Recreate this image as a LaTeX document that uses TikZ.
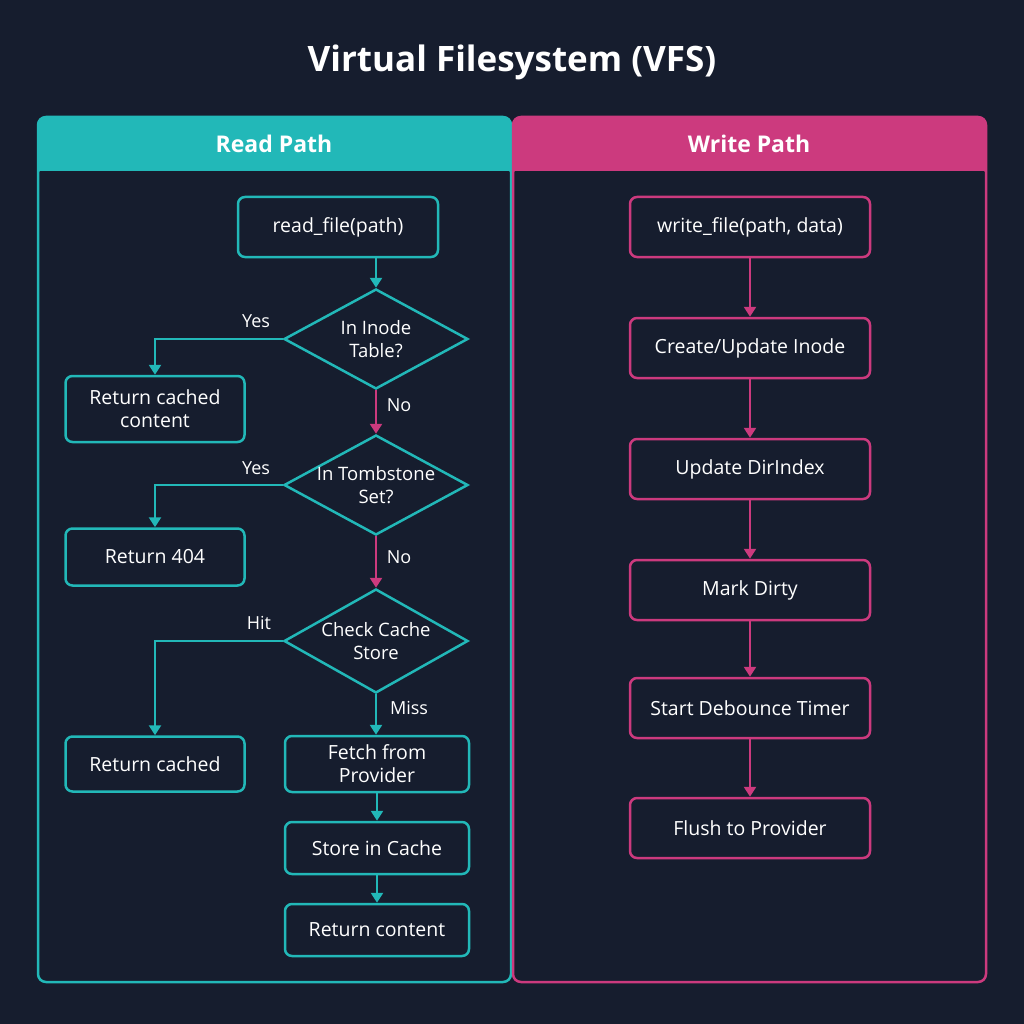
\documentclass[tikz,border=0pt]{standalone}
\usepackage{fontspec}
\setmainfont{Open Sans}
\usetikzlibrary{shapes.geometric,arrows.meta}
\definecolor{bg}{HTML}{161D2E}
\definecolor{teal}{HTML}{22B8B8}
\definecolor{pink}{HTML}{CC3A7E}
\tikzset{
 box/.style={draw=#1,line width=2.5pt,rounded corners=7pt,fill=bg,text=white,font=\fontsize{19.5}{23}\selectfont,align=center,inner sep=0pt},
 dia/.style={draw=teal,line width=2.5pt,diamond,fill=bg,aspect=1.84,minimum width=184pt,minimum height=100pt,inner sep=0pt},
 dtxt/.style={text=white,font=\fontsize{18.5}{23}\selectfont,align=center},
 arr/.style={draw=#1,line width=2.5pt,-{Triangle[length=10pt,width=12pt]}},
 lab/.style={text=white,font=\fontsize{18}{22}\selectfont},
 hdr/.style={text=white,font=\fontsize{23}{28}\selectfont\bfseries}
}
\begin{document}
\begin{tikzpicture}[x=1pt,y=-1pt]
\fill[bg] (0,0) rectangle (1024,1024);
\useasboundingbox (0,0) rectangle (1024,1024);
\node[text=white,font=\fontsize{35}{40}\selectfont\bfseries] (title) at (512,62) {Virtual Filesystem (VFS)};
% panels
\fill[teal,rounded corners=8pt] (38,117) rectangle (511,175);
\fill[bg] (40,170) rectangle (509,980);
\draw[teal,line width=2.5pt,rounded corners=8pt] (38,117) rectangle (511,982);
\draw[teal,line width=2.5pt] (38,170) -- (511,170);
\node[hdr] (rh) at (274,144) {Read Path};
\fill[pink,rounded corners=8pt] (513,117) rectangle (986,175);
\fill[bg] (515,170) rectangle (984,980);
\draw[pink,line width=2.5pt,rounded corners=8pt] (513,117) rectangle (986,982);
\draw[pink,line width=2.5pt] (513,170) -- (986,170);
\node[hdr] (wh) at (749,144) {Write Path};
% read nodes
\node[box=teal,minimum width=200pt,minimum height=60pt] (rf) at (338,227) {read\_file(path)};
\node[dia] (d1) at (376,339) {};
\node[dtxt] (t1) at (d1) {In Inode\\Table?};
\node[dia] (d2) at (376,485) {};
\node[dtxt] (t2) at (d2) {In Tombstone\\Set?};
\node[dia,minimum height=104pt] (d3) at (376,641) {};
\node[dtxt] (t3) at (d3) {Check Cache\\Store};
\node[box=teal,minimum width=179pt,minimum height=66pt] (rc) at (155,409) {Return cached\\content};
\node[box=teal,minimum width=179pt,minimum height=57pt] (r404) at (155,557) {Return 404};
\node[box=teal,minimum width=179pt,minimum height=55pt] (rc2) at (155,764) {Return cached};
\node[box=teal,minimum width=184pt,minimum height=56pt] (fp) at (377,764) {Fetch from\\Provider};
\node[box=teal,minimum width=184pt,minimum height=52pt] (sc) at (377,848) {Store in Cache};
\node[box=teal,minimum width=184pt,minimum height=52pt] (rcn) at (377,930) {Return content};
\draw[arr=teal] (rf.south -| d1.north) -- (d1.north);
\draw[arr=teal] (d1.west) -| (rc.north);
\draw[arr=pink] (d1.south) -- (d2.north);
\draw[arr=teal] (d2.west) -| (r404.north);
\draw[arr=pink] (d2.south) -- (d3.north);
\draw[arr=teal] (d3.west) -| (rc2.north);
\draw[arr=teal] (d3.south) -- (fp.north -| d3.south);
\draw[arr=teal] (fp.south) -- (sc.north);
\draw[arr=teal] (sc.south) -- (rcn.north);
\node[lab] (y1) at (256,321) {Yes};
\node[lab] (n1) at (399,405) {No};
\node[lab] (y2) at (256,468) {Yes};
\node[lab] (n2) at (399,557) {No};
\node[lab] (h) at (259,623) {Hit};
\node[lab] (m) at (409,708) {Miss};
% write nodes
\node[box=pink,minimum width=240pt,minimum height=60pt] (wf) at (750,227) {write\_file(path, data)};
\node[box=pink,minimum width=240pt,minimum height=60pt] (cu) at (750,348) {Create/Update Inode};
\node[box=pink,minimum width=240pt,minimum height=60pt] (ud) at (750,469) {Update DirIndex};
\node[box=pink,minimum width=240pt,minimum height=60pt] (md) at (750,590) {Mark Dirty};
\node[box=pink,minimum width=240pt,minimum height=60pt] (sd) at (750,708) {Start Debounce Timer};
\node[box=pink,minimum width=240pt,minimum height=60pt] (fl) at (750,828) {Flush to Provider};
\draw[arr=pink] (wf) -- (cu);
\draw[arr=pink] (cu) -- (ud);
\draw[arr=pink] (ud) -- (md);
\draw[arr=pink] (md) -- (sd);
\draw[arr=pink] (sd) -- (fl);
\end{tikzpicture}
\end{document}
